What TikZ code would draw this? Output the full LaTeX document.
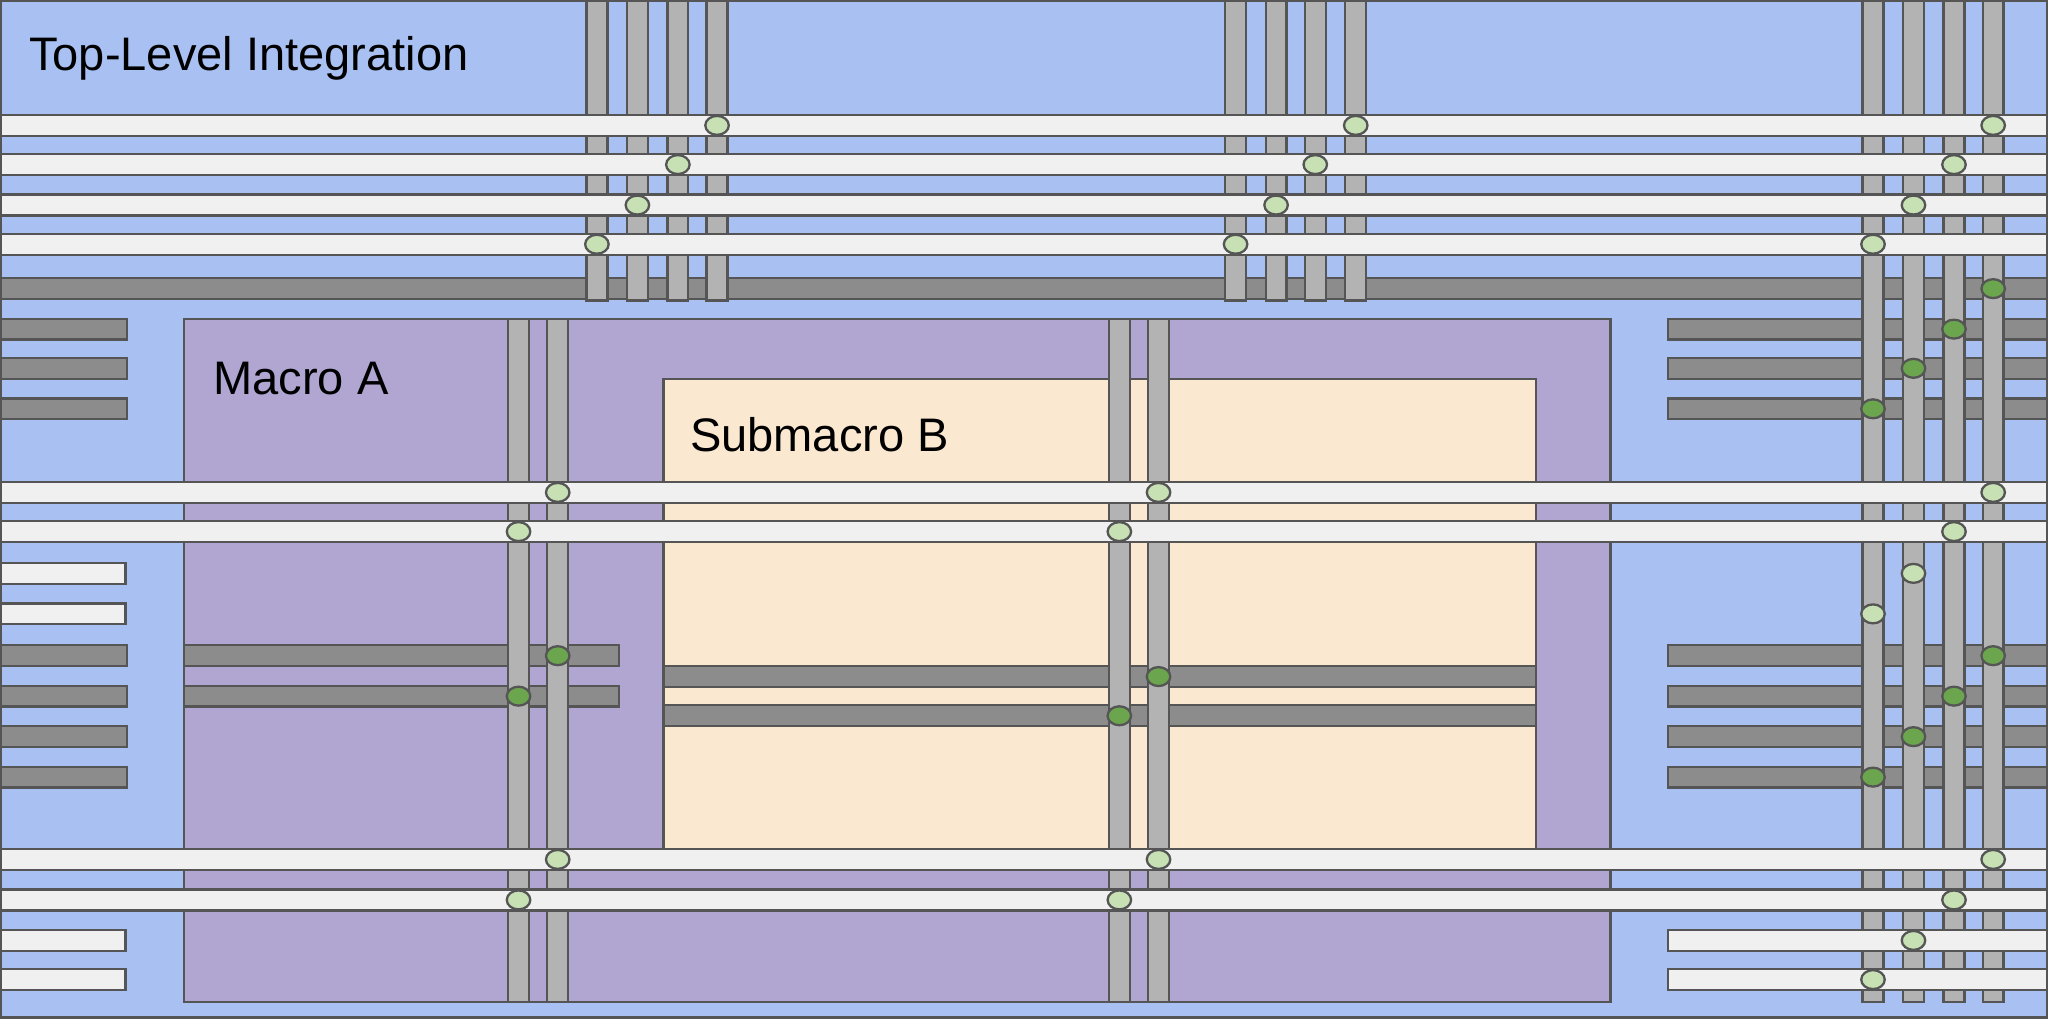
\documentclass[tikz,border=0pt]{standalone}
\usepackage{fontspec}
\setmainfont{Liberation Sans}
\usepackage{tikz}
\usetikzlibrary{positioning,shapes.geometric}
\definecolor{toplevel}{HTML}{A9C1F2}
\definecolor{macroa}{HTML}{B1A5D2}
\definecolor{submacro}{HTML}{FAE8D1}
\definecolor{wireh}{HTML}{F0F0F0}
\definecolor{wired}{HTML}{8C8C8C}
\definecolor{wirev}{HTML}{B3B3B3}
\definecolor{vialight}{HTML}{C7E1B5}
\definecolor{viadark}{HTML}{6BA54E}
\definecolor{edge}{HTML}{555555}
\tikzset{
  block/.style={draw=edge, line width=1pt},
  hwire/.style={draw=edge, line width=1pt, fill=wireh},
  dwire/.style={draw=edge, line width=1pt, fill=wired},
  vwire/.style={draw=edge, line width=1pt, fill=wirev},
  via/.style={ellipse, draw=edge, line width=1pt, minimum width=0.36cm, minimum height=0.29cm, inner sep=0pt},
  title/.style={anchor=west, font=\fontsize{20.5}{22}\selectfont, inner sep=0pt}
}
\newcommand{\hwirebar}[4][hwire]{\path[#1] (#2,#4-8) rectangle (#3,#4+8);}
\newcommand{\vwirebar}[3]{\path[vwire] (#1-8,#2) rectangle (#1+8,#3);}
\begin{document}
\begin{tikzpicture}[x=0.02cm, y=-0.02cm]
	\useasboundingbox (0,0) rectangle (1568,780);
	
	\path[block, fill=toplevel] (1,1) rectangle (1567,779);
	\node [title] (top) at (22,45) {Top-Level Integration};
	
	\path[block, fill=macroa] (141,244) rectangle (1233,767);
	\node [title] (maca) at (163,290) {Macro A};
	\path[block, fill=submacro] (508,290) rectangle (1176,650);
	\node [title] (subb) at (528,333) {Submacro B};
	
	% dark wires
	\hwirebar[dwire]{1}{1567}{221}
	\foreach \y in {252,282,313,502,533,564,595} {
		\hwirebar[dwire]{1}{97}{\y}
		\hwirebar[dwire]{1277}{1567}{\y}
	}
	\foreach \y in {502,533} \hwirebar[dwire]{141}{474}{\y};
	\foreach \y in {518,548} \hwirebar[dwire]{508}{1176}{\y};
	
	% vertical wires
	\foreach \x in {457,488,519,549,946,977,1007,1038} \vwirebar{\x}{1}{230};
	\foreach \x in {1434,1465,1496,1526} \vwirebar{\x}{1}{767};
	\foreach \x in {397,427,857,887} \vwirebar{\x}{244}{767};
	
	% light wires
	\foreach \y in {96,126,157,187,377,407,658,689} \hwirebar{1}{1567}{\y};
	\foreach \y in {439,470,720,750} \hwirebar{1}{96}{\y};
	\foreach \y in {720,750} \hwirebar{1277}{1567}{\y};
	
	% vias
	\foreach \x/\y [count=\i] in {549/96,1038/96,1526/96,519/126,1007/126,1496/126,
		488/157,977/157,1465/157,457/187,946/187,1434/187,
		427/377,887/377,1526/377,397/407,857/407,1496/407,1465/439,1434/470,
		427/658,887/658,1526/658,397/689,857/689,1496/689,1465/720,1434/750}
		\node [via, fill=vialight] (vl\i) at (\x,\y) {};
	\foreach \x/\y [count=\i] in {1526/221,1496/252,1465/282,1434/313,
		427/502,397/533,887/518,857/548,1526/502,1496/533,1465/564,1434/595}
		\node [via, fill=viadark] (vd\i) at (\x,\y) {};
\end{tikzpicture}
\end{document}
